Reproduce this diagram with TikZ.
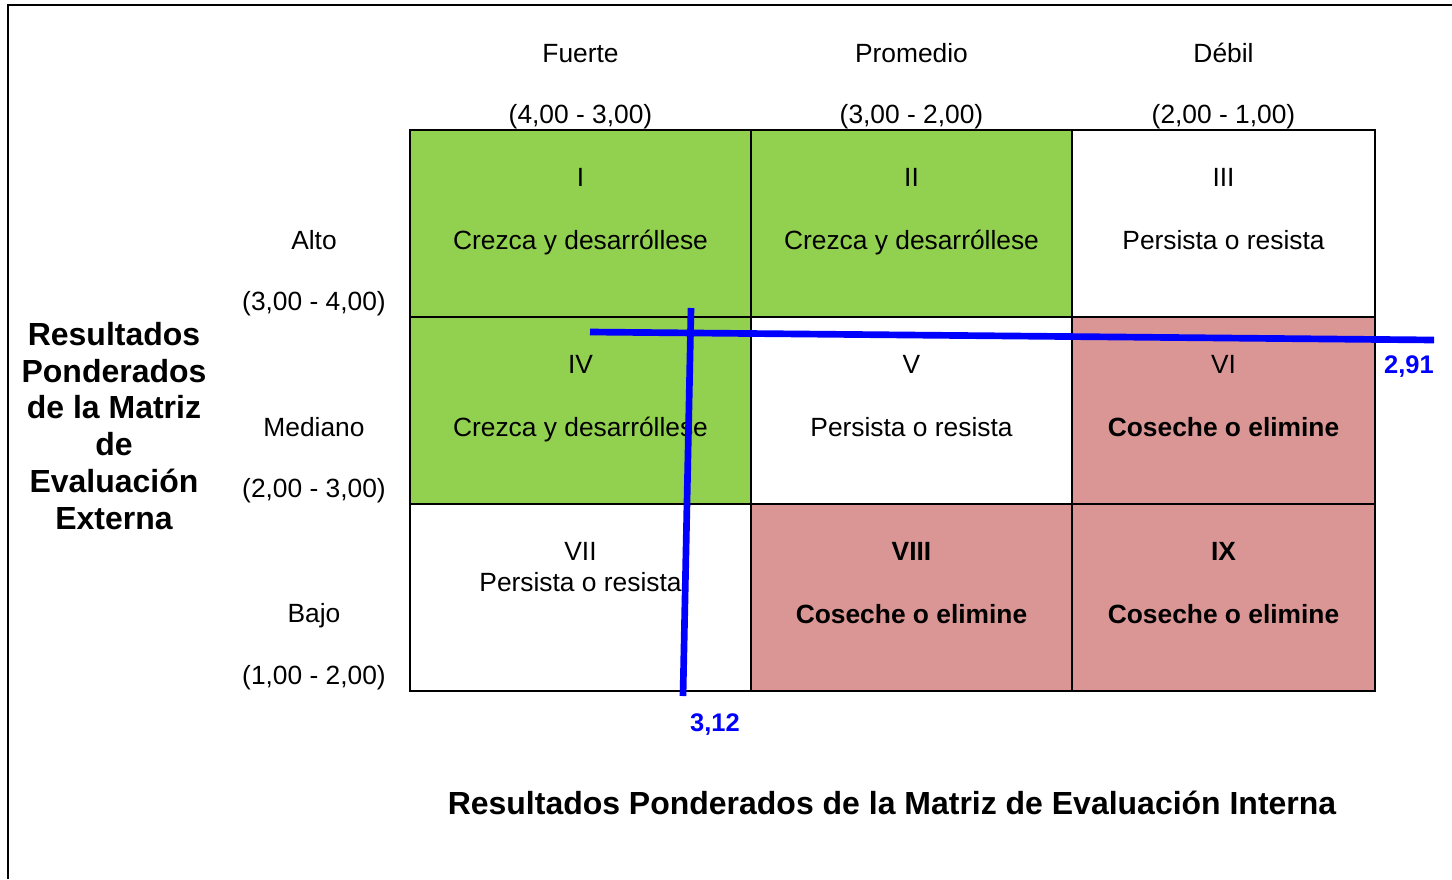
\documentclass[tikz,border=0pt]{standalone}
\usepackage{fontspec}
\setmainfont{Liberation Sans}
\usepackage{xcolor}
\usetikzlibrary{positioning}
\definecolor{verde}{RGB}{146,208,80}
\definecolor{rojo}{RGB}{218,150,148}
\definecolor{azul}{RGB}{0,0,255}

\begin{document}
\begin{tikzpicture}[x=0.02cm,y=-0.02cm,
celda/.style={draw=black,line width=1.5pt,inner sep=0pt,outer sep=0pt,minimum height=3.74cm},
texto/.style={font=\fontsize{15}{18}\selectfont,inner sep=1pt,text depth=0pt},
negrita/.style={texto,font=\fontsize{15}{18}\selectfont\bfseries},
titulo/.style={font=\fontsize{18.2}{21}\selectfont\bfseries,align=center,inner sep=1pt},
valor/.style={font=\fontsize{14.5}{16}\selectfont\bfseries,text=azul,inner sep=1pt,text depth=0pt},
linea/.style={draw=azul,line width=3.8pt}
]
\useasboundingbox (0,0) rectangle (1452,879);
\draw[line width=1.7pt] (1452,5) -- (8,5) -- (8,879);

% encabezados de columnas
\node[texto] (fuerte) at (580.5,53) {Fuerte};
\node[texto] (fuerteR) at (580.5,114) {(4,00 - 3,00)};
\node[texto] (prom) at (911.5,53) {Promedio};
\node[texto] (promR) at (911.5,114) {(3,00 - 2,00)};
\node[texto] (debil) at (1223.5,53) {Débil};
\node[texto] (debilR) at (1223.5,114) {(2,00 - 1,00)};

% encabezados de filas
\node[texto] (alto) at (314,240) {Alto};
\node[texto] (altoR) at (314,301) {(3,00 - 4,00)};
\node[texto] (mediano) at (314,427) {Mediano};
\node[texto] (medianoR) at (314,488) {(2,00 - 3,00)};
\node[texto] (bajo) at (314,613) {Bajo};
\node[texto] (bajoR) at (314,675) {(1,00 - 2,00)};

% celdas
\node[celda,fill=verde,minimum width=6.82cm] (c1) at (580.5,223.5) {};
\node[celda,fill=verde,minimum width=6.42cm] (c2) at (911.5,223.5) {};
\node[celda,fill=white,minimum width=6.06cm] (c3) at (1223.5,223.5) {};
\node[celda,fill=verde,minimum width=6.82cm] (c4) at (580.5,410.5) {};
\node[celda,fill=white,minimum width=6.42cm] (c5) at (911.5,410.5) {};
\node[celda,fill=rojo,minimum width=6.06cm] (c6) at (1223.5,410.5) {};
\node[celda,fill=white,minimum width=6.82cm] (c7) at (580.5,597.5) {};
\node[celda,fill=rojo,minimum width=6.42cm] (c8) at (911.5,597.5) {};
\node[celda,fill=rojo,minimum width=6.06cm] (c9) at (1223.5,597.5) {};

\node[texto] (n1) at ([yshift=-0.94cm]c1.north) {I};
\node[texto] (t1) at ([yshift=-2.2cm]c1.north) {Crezca y desarróllese};
\node[texto] (n2) at ([yshift=-0.94cm]c2.north) {II};
\node[texto] (t2) at ([yshift=-2.2cm]c2.north) {Crezca y desarróllese};
\node[texto] (n3) at ([yshift=-0.94cm]c3.north) {III};
\node[texto] (t3) at ([yshift=-2.2cm]c3.north) {Persista o resista};
\node[texto] (n4) at ([yshift=-0.94cm]c4.north) {IV};
\node[texto] (t4) at ([yshift=-2.2cm]c4.north) {Crezca y desarróllese};
\node[texto] (n5) at ([yshift=-0.94cm]c5.north) {V};
\node[texto] (t5) at ([yshift=-2.2cm]c5.north) {Persista o resista};
\node[texto] (n6) at ([yshift=-0.94cm]c6.north) {VI};
\node[negrita] (t6) at ([yshift=-2.2cm]c6.north) {Coseche o elimine};
\node[texto] (n7) at ([yshift=-0.94cm]c7.north) {VII};
\node[texto] (t7) at ([yshift=-1.56cm]c7.north) {Persista o resista};
\node[negrita] (n8) at ([yshift=-0.94cm]c8.north) {VIII};
\node[negrita] (t8) at ([yshift=-2.2cm]c8.north) {Coseche o elimine};
\node[negrita] (n9) at ([yshift=-0.94cm]c9.north) {IX};
\node[negrita] (t9) at ([yshift=-2.2cm]c9.north) {Coseche o elimine};

% titulos de ejes
\node[titulo] (efe) at (114,426) {Resultados\\Ponderados\\de la Matriz\\de\\Evaluación\\Externa};
\node[titulo] (efi) at (892,803) {Resultados Ponderados de la Matriz de Evaluación Interna};

% lineas de resultado
\coordinate (h1) at (590,332);
\coordinate (h2) at (1434,340);
\coordinate (v1) at (691,308);
\coordinate (v2) at (683,696);
\draw[linea] (h1) -- (h2);
\draw[linea] (v1) -- (v2);
\node[valor] (ie) at (1409,365) {2,91};
\node[valor] (ii) at (715,723) {3,12};
\end{tikzpicture}
\end{document}
